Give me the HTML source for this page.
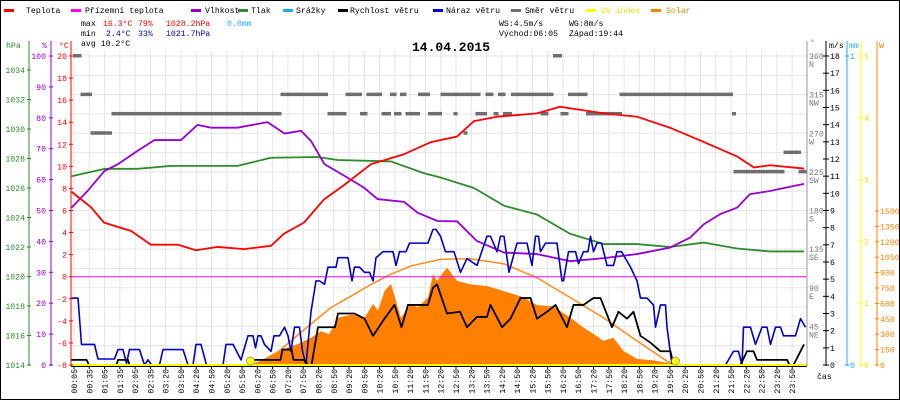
<!DOCTYPE html>
<html><head><meta charset="utf-8">
<style>
html,body{margin:0;padding:0;background:#fff}
#wrap{position:relative;width:900px;height:400px;box-sizing:border-box;border:1px solid #000;overflow:hidden;background:#fff}
svg{position:absolute;left:0;top:0}
text{font-family:"Liberation Mono","DejaVu Sans Mono",monospace;font-size:8.2px}
</style></head>
<body>
<div id="wrap">
<svg id="chart" width="900" height="400"></svg>
</div>
<script>
// ---- data (minutes since midnight) ----
const tempT=[0,39,65,119,159,213,249,293,345,399,425,465,505,545,599,665,719,771,805,851,931,977,1065,1131,1197,1265,1331,1365,1397,1465];
const tempV=[7.7,6.3,4.9,4.15,2.9,2.9,2.4,2.7,2.5,2.8,3.9,4.9,7.0,8.3,10.2,11.1,12.2,12.7,14.1,14.5,14.8,15.4,14.8,14.5,13.5,12.2,10.9,9.9,10.1,9.8];
const humT=[0,32,66,93,132,166,219,252,279,332,392,426,459,479,506,546,585,612,665,692,732,771,811,865,931,997,1065,1131,1197,1237,1265,1297,1331,1357,1397,1431,1465];
const humV=[50.9,56.3,62.8,65,69.3,72.8,72.8,77.7,76.8,76.8,78.6,74.9,75.8,72.5,65,61.2,57.4,53.7,52.8,49.3,46.6,46.5,40.1,36.4,35.9,33.6,34.6,35.9,38,41.2,45.6,48.8,50.9,55.3,56.3,57.5,58.6];
const presT=[0,66,132,199,332,399,492,532,639,705,739,805,865,931,997,1065,1131,1197,1265,1331,1397,1465];
const presV=[1026.8,1027.3,1027.3,1027.5,1027.5,1028.05,1028.1,1027.9,1027.8,1027.0,1026.7,1026.0,1024.8,1024.2,1022.9,1022.2,1022.2,1022.0,1022.3,1021.9,1021.7,1021.7];
const wsT=[0,30,35,90,93,113,116,353,356,418,422,440,444,465,473,480,493,527,533,566,586,603,626,646,660,673,713,723,731,751,777,791,811,831,838,861,878,898,918,931,951,968,991,1004,1024,1044,1058,1081,1094,1111,1124,1138,1158,1178,1198,1204,1338,1351,1364,1371,1431,1436,1444,1465];
const wsV=[0.3,0.3,0,0,0.3,0.3,0,0,0.3,0.3,0.9,0.9,0.3,0.3,0,0,2.2,2.2,3.0,3.0,2.7,1.7,2.7,3.5,2.2,3.5,3.5,4.5,4.7,3.0,3.1,2.2,2.8,2.8,3.5,2.2,2.7,3.9,3.9,2.7,3.1,3.5,2.2,3.5,3.5,3.9,3.9,2.2,3.1,2.7,3.1,1.7,1.3,0.8,0.8,0,0,0.8,0.8,0.3,0.3,0,0,1.2];
const gustT=[0,13,20,46,53,86,93,103,110,116,136,146,153,160,176,183,223,233,243,249,259,270,303,309,323,339,353,363,368,373,379,386,399,405,416,426,433,439,446,456,462,469,479,489,496,506,513,529,533,553,561,566,576,586,596,603,609,623,643,649,656,669,676,713,723,729,738,748,765,778,791,811,831,838,851,858,865,875,891,911,921,928,934,938,948,971,981,984,994,1008,1014,1024,1033,1038,1044,1051,1060,1071,1084,1091,1100,1118,1131,1138,1151,1164,1168,1178,1188,1191,1201,1308,1324,1334,1341,1344,1358,1368,1381,1391,1398,1408,1418,1424,1448,1458,1468];
const gustV=[3.9,3.9,1.2,1.2,0.35,0.35,0.9,0.9,0.1,0.9,0.9,0,0.3,0,0,0.9,0.9,0,0,1.2,1.2,0,0,1.2,1.2,0.3,1.7,1.7,1.0,1.7,1.7,1.2,0.8,1.7,1.7,2.2,1.7,0.8,2.2,2.2,0.8,0,3.1,4.9,4.9,4.7,5.7,5.7,6.25,6.25,4.9,5.7,5.7,5.4,5.4,4.9,6.25,6.6,6.6,5.8,6.6,6.6,7.1,7.1,7.9,7.9,7.5,6.6,6.6,5.4,6.2,5.8,7.5,7.5,6.6,7.5,7.5,5.4,7.1,7.1,5.8,7.5,7.5,6.6,7.1,7.1,4.9,4.9,6.6,6.6,5.9,6.6,6.6,7.5,6.6,7.1,7.1,5.8,5.8,6.6,6.6,5.7,4.9,3.9,3.9,3.5,2.2,3.5,3.5,2.2,0,0,0.8,0.8,0,2.2,2.2,1.2,2.2,2.2,1.2,2.2,2.2,1.7,1.7,2.7,2.2];
const solarT=[363,413,453,479,499,515,533,559,575,586,603,613,626,639,659,679,693,713,723,731,751,771,798,831,865,898,931,964,998,1024,1051,1064,1084,1104,1131,1164,1198,1211];
const solarV=[0,136,205,265,330,300,460,490,490,460,595,530,720,790,460,595,560,660,885,820,950,820,785,770,720,670,585,570,460,365,280,235,265,136,60,45,15,0];
const clearT=[358,399,439,479,519,559,599,639,679,739,798,865,931,998,1064,1131,1198,1208];
const clearV=[0,70,235,400,560,670,785,885,965,1030,1035,985,850,655,460,235,15,0];
const dirStart=[3,18,38,80,418,512,548,577,590,620,637,645,657,668,693,713,731,738,764,784,808,828,844,853,863,879,938,963,978,993,1029,1096,1321,1324,1424,1454];
const dirEnd=[20,41,81,420,513,550,581,592,621,639,650,660,670,697,717,740,741,818,772,792,831,844,854,868,881,964,954,981,994,1032,1101,1323,1329,1426,1459,1471];
const dirDeg=[360,315,270,292.5,315,292.5,315,292.5,315,292.5,315,292.5,315,292.5,315,292.5,292.5,315,292.5,270,292.5,315,292.5,315,292.5,315,292.5,360,292.5,315,292.5,315,292.5,225,247.5,225];
const sunEvents=[358,1208];
const xLabels=["00:05","00:35","01:05","01:35","02:05","02:35","03:20","03:50","04:20","04:50","05:20","05:50","06:20","06:50","07:20","07:50","08:20","08:50","09:20","09:50","10:20","10:50","11:20","11:50","12:20","12:50","13:20","13:50","14:20","14:50","15:20","15:50","16:20","16:50","17:20","17:50","18:20","18:50","19:20","19:50","20:20","20:50","21:20","21:50","22:20","22:50","23:20","23:50"];
const hpaTicks=[1034,1032,1030,1028,1026,1024,1022,1020,1018,1016,1014];
const pctTicks=[100,90,80,70,60,50,40,30,20,10,0];
const degCTicks=[20,18,16,14,12,10,8,6,4,2,0,-2,-4,-6,-8];
const dirTicks=[360,315,270,225,180,135,90,45];
const dirNames=["N","NW","W","SW","S","SE","E","NE"];
const msTicks=[18,17,16,15,14,13,12,11,10,9,8,7,6,5,4,3,2,1,0];
const uvTicks=[5,4,3,2,1,0];
const wTicks=[1500,1350,1200,1050,900,750,600,450,300,150,0];

// ---- scales ----
const X0=70.5, X1=806, YT=55, YB=364;
const xT=t=>X0+t*0.5;
const yC=v=>YT+(20-v)*(YB-YT)/28;
const yP=v=>YT+(100-v)*(YB-YT)/100;
const yH=v=>69+(1034-v)*14.75;
const yMS=v=>YB-v*(YB-YT)/18;
const yW=v=>YB-v*154/1500;
const yUV=v=>YB-v*(YB-YT)/5;
const yD=v=>YB-v*(YB-YT)/360;

const svg=document.getElementById('chart');
const NS='http://www.w3.org/2000/svg';
function mk(tag,attrs,parent){const e=document.createElementNS(NS,tag);for(const k in attrs)e.setAttribute(k,attrs[k]);(parent||svg).appendChild(e);return e;}
function txt(x,y,s,fill,anchor,extra){const e=mk('text',Object.assign({x:x,y:y,fill:fill,'text-anchor':anchor||'start'},extra||{}));e.textContent=s;return e;}

// grid
const grid=mk('g',{});


for(let i=0;i<xLabels.length;i++){const x=73+i*15.28;mk('line',{x1:x,x2:x,y1:50,y2:YB,stroke:'#e4e4e4','stroke-width':1},grid);}
for(let i=0;i<=16;i++){const y=YT+i*(YB-YT)/16;mk('line',{x1:70,x2:X1,y1:y,y2:y,stroke:'#e4e4e4','stroke-width':1},grid);}

// direction marks
const dg=mk('g',{});


for(let i=0;i<dirDeg.length;i++){
  const r=mk('rect',{x:xT(dirStart[i]),y:yD(dirDeg[i])-2,width:Math.max(2,xT(dirEnd[i])-xT(dirStart[i])),height:3.5,fill:'#6e6e6e'},dg);
  
  
}

// solar area
let sp='M'+xT(solarT[0])+','+YB;
for(let i=0;i<solarT.length;i++)sp+=' L'+xT(solarT[i])+','+yW(solarV[i]);
sp+=' L'+xT(solarT[solarT.length-1])+','+YB+' Z';
const sa=mk('path',{d:sp,fill:'#ff8000'});



function line(ts,vs,sc,color,w,name){
  const pts=ts.map((t,i)=>xT(t)+','+sc(vs[i])).join(' ');
  const p=mk('polyline',{points:pts,fill:'none',stroke:color,'stroke-width':w,'stroke-linejoin':'round'});
  
  
}
line(clearT,clearV,yW,'#ff8c1a',1.5,'solar-clear-sky-line');
// zero line (apparent temp)
const zl=mk('line',{x1:70,x2:X1,y1:yC(0),y2:yC(0),stroke:'#ff00ff','stroke-width':1});


line(presT,presV,yH,'#2e8b2e',1.8,'pressure-line');
line(humT,humV,yP,'#9400d3',1.8,'humidity-line');
line(tempT,tempV,yC,'#ff0000',1.8,'temperature-line');
line(gustT,gustV,yMS,'#0000cc',1.6,'wind-gust-line');
line(wsT,wsV,yMS,'#000000',1.8,'wind-speed-line');

// baseline
mk('line',{x1:70,x2:X1,y1:YB+1.5,y2:YB+1.5,stroke:'#000','stroke-width':1});
const uv=mk('line',{x1:70,x2:X1,y1:YB,y2:YB,stroke:'#ffff00','stroke-width':2});


for(const t of sunEvents){
  const c=mk('circle',{cx:xT(t),cy:YB-4,r:4,fill:'#ffff00',stroke:'#888','stroke-width':0.7});
  
  
}

// x labels
for(let i=0;i<xLabels.length;i++){
  const x=73+i*15.28;
  mk('line',{x1:x,x2:x,y1:YB+2,y2:YB+4,stroke:'#000'});
  const t=txt(x+3,368,xLabels[i],'#000','end',{transform:'rotate(-90 '+(x+3)+' 368)'});
  
  
}
txt(816,378,'čas','#000','start');

// left axes
mk('line',{x1:28,x2:28,y1:40,y2:YB+1,stroke:'#2e8b2e','stroke-width':1});
mk('line',{x1:50,x2:50,y1:40,y2:YB+1,stroke:'#9400d3','stroke-width':1});
mk('line',{x1:70,x2:70,y1:40,y2:YB+1,stroke:'#ff0000','stroke-width':1});
txt(5,47,'hPa','#2e8b2e'); txt(41,47,'%','#9400d3'); txt(58,47,'°C','#ff0000');
for(const v of hpaTicks){const y=yH(v);mk('line',{x1:26,x2:30,y1:y,y2:y,stroke:'#2e8b2e'});txt(24,y+3,String(v),'#2e8b2e','end');}
for(const v of pctTicks){const y=yP(v);mk('line',{x1:48,x2:52,y1:y,y2:y,stroke:'#9400d3'});txt(45,y+3,String(v),'#9400d3','end');}
for(const v of degCTicks){const y=yC(v);mk('line',{x1:68,x2:72,y1:y,y2:y,stroke:'#ff0000'});txt(66,y+3,String(v),'#ff0000','end');}

// right axes
mk('line',{x1:806,x2:806,y1:40,y2:YB+1,stroke:'#999','stroke-width':1});
mk('line',{x1:825,x2:825,y1:40,y2:YB+1,stroke:'#000','stroke-width':1});
mk('line',{x1:846,x2:846,y1:40,y2:YB+1,stroke:'#1eaaff','stroke-width':1});
mk('line',{x1:860,x2:860,y1:40,y2:YB+1,stroke:'#ffff00','stroke-width':1});
mk('line',{x1:876,x2:876,y1:40,y2:YB+1,stroke:'#ff8000','stroke-width':1});
txt(809,44,'°','#777'); txt(828,47,'m/s','#000'); txt(848,47,'mm','#1eaaff'); txt(878,47,'W','#ff8000');
for(let i=0;i<dirTicks.length;i++){const y=yD(dirTicks[i]);txt(808,y+3,String(dirTicks[i]),'#777');txt(808,y+11,dirNames[i],'#777');}
for(const v of msTicks){const y=yMS(v);mk('line',{x1:822,x2:828,y1:y,y2:y,stroke:'#000'});txt(829,y+3,String(v),'#000');}
txt(849,YT+3,'1','#1eaaff'); txt(849,YB+3,'0','#1eaaff');
mk('line',{x1:844,x2:848,y1:YT,y2:YT,stroke:'#1eaaff'});mk('line',{x1:844,x2:848,y1:YB,y2:YB,stroke:'#1eaaff'});
for(const v of uvTicks){const y=yUV(v);mk('line',{x1:858,x2:862,y1:y,y2:y,stroke:'#ffff00'});txt(863,y+3,String(v),'#e6e600');}
for(const v of wTicks){const y=yW(v);mk('line',{x1:874,x2:878,y1:y,y2:y,stroke:'#ff8000'});txt(879,y+3,String(v),'#ff8000');}

// legend
const legend=[[3,25,'#ff0000','Teplota'],[70,84,'#ff00ff','Přízemní teplota'],[190,204,'#9400d3','Vlhkost'],[237,250,'#2e8b2e','Tlak'],[282,295,'#1eaaff','Srážky'],[337,349,'#000','Rychlost větru'],[432,445,'#0000cc','Náraz větru'],[510,524,'#6e6e6e','Směr větru'],[585,600,'#ffff00','UV index'],[650,665,'#ff8000','Solar']];
for(const l of legend){
  const g=mk('g',{});
  
  
  mk('rect',{x:l[0],y:8,width:10,height:3,fill:l[2]},g);
  const t=mk('text',{x:l[1],y:12,fill:(l[3]==='UV index'?'#e6e600':(['Teplota','Přízemní teplota','Vlhkost','Tlak','Srážky','Rychlost větru','Náraz větru','Směr větru'].includes(l[3])?'#000':l[2]))},g);
  t.textContent=l[3];
}
// header stats
txt(80,25,'max','#000'); txt(102,25,'16.3°C','#ff0000'); txt(137,25,'79%','#ff0000'); txt(165,25,'1028.2hPa','#ff0000'); txt(226,25,'0.0mm','#1eaaff');
txt(80,35,'min','#000'); txt(105,35,'2.4°C','#0000cc'); txt(137,35,'33%','#0000cc'); txt(165,35,'1021.7hPa','#0000cc');
txt(80,45,'avg 10.2°C','#000');
txt(498,25,'WS:4.5m/s','#000'); txt(568,25,'WG:8m/s','#000');
txt(498,35,'Východ:06:05','#000'); txt(568,35,'Západ:19:44','#000');
const title=txt(450,50,'14.04.2015','#000','middle',{style:'font-size:13px;font-weight:bold'});


</script>
</body></html>
